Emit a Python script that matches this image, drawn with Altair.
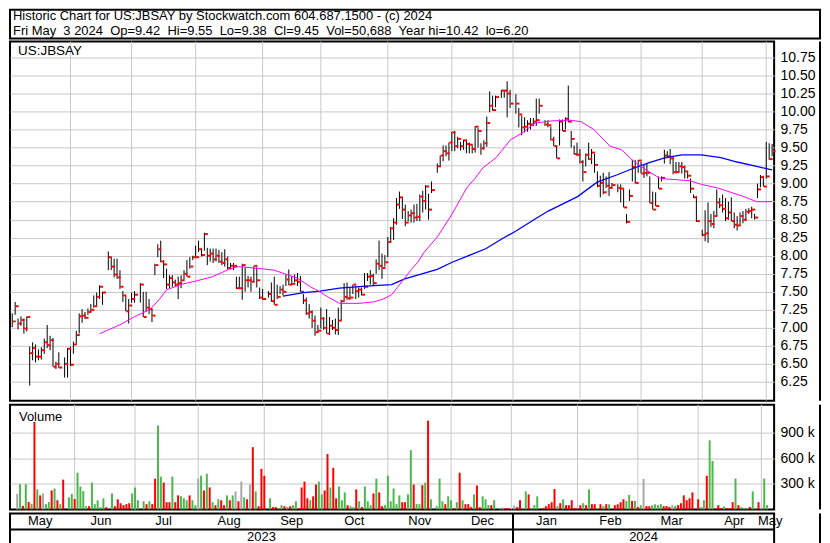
import altair as alt
import pandas as pd

# ---------------- calendar ----------------
FIRST_DAY = "2023-05-04"
LAST_DAY = "2024-05-03"
HOLIDAYS = ["2023-05-29", "2023-06-19", "2023-07-04", "2023-09-04", "2023-11-23",
            "2023-12-25", "2024-01-01", "2024-01-15", "2024-02-19", "2024-03-29"]

# ---------------- daily bars (high / low / close), volume in thousands, volume colour ----------------
may23_h = [7.20, 7.36, 7.13, 7.16, 7.13, 7.16, 6.74, 6.80, 6.77, 6.70, 6.73, 6.85, 7.04, 6.89, 6.86, 6.53, 6.66, 6.59, 6.72]
may23_l = [7.01, 7.18, 6.98, 7.03, 6.92, 6.95, 6.20, 6.55, 6.52, 6.55, 6.56, 6.64, 6.72, 6.69, 6.46, 6.43, 6.44, 6.31, 6.31]
may23_c = [7.09, 7.30, 7.06, 7.11, 6.99, 7.15, 6.65, 6.72, 6.60, 6.60, 6.69, 6.80, 6.76, 6.83, 6.46, 6.50, 6.45, 6.50, 6.71]
may23_v = [181, 296, 42, 296, 88, 65, 1027, 235, 165, 188, 62, 88, 223, 246, 108, 62, 350, 142, 181]
may23_d = ["n", "g", "r", "g", "r", "g", "r", "g", "r", "n", "g", "g", "r", "g", "r", "g", "r", "g", "g"]

jun23_h = [6.74, 6.81, 6.96, 7.20, 7.26, 7.22, 7.27, 7.33, 7.45, 7.49, 7.59, 7.50, 8.06, 7.98, 7.96, 7.96, 7.80, 7.51, 7.44, 7.40, 7.49]
jun23_l = [6.47, 6.64, 6.78, 6.92, 7.07, 7.12, 7.18, 7.22, 7.28, 7.31, 7.40, 7.32, 7.80, 7.80, 7.70, 7.68, 7.54, 7.36, 7.23, 7.06, 7.35]
jun23_c = [6.49, 6.77, 6.90, 7.16, 7.17, 7.14, 7.22, 7.25, 7.30, 7.43, 7.57, 7.49, 7.98, 7.85, 7.74, 7.70, 7.57, 7.45, 7.23, 7.31, 7.40]
jun23_v = [123, 431, 269, 215, 38, 38, 315, 62, 108, 27, 131, 27, 188, 38, 119, 73, 50, 62, 73, 188, 258]
jun23_d = ["r", "g", "g", "g", "g", "r", "g", "g", "g", "g", "g", "r", "g", "r", "r", "r", "r", "r", "r", "g", "g"]

jul23_h = [7.51, 7.62, 7.50, 7.50, 7.40, 7.26, 7.89, 8.16, 8.21, 7.94, 7.82, 7.73, 7.73, 7.67, 7.71, 7.73, 7.80, 7.94, 7.98, 8.00]
jul23_l = [7.35, 7.35, 7.15, 7.23, 7.19, 7.08, 7.73, 7.98, 7.91, 7.69, 7.54, 7.55, 7.57, 7.57, 7.40, 7.55, 7.67, 7.71, 7.82, 7.94]
jul23_c = [7.46, 7.60, 7.15, 7.28, 7.26, 7.17, 7.87, 8.09, 7.92, 7.88, 7.60, 7.69, 7.63, 7.60, 7.62, 7.66, 7.75, 7.71, 7.85, 7.98]
jul23_v = [108, 96, 62, 96, 62, 362, 985, 385, 315, 85, 85, 385, 85, 165, 154, 131, 108, 165, 108, 50]
jul23_d = ["g", "g", "r", "g", "r", "r", "g", "g", "r", "r", "r", "g", "r", "r", "g", "g", "g", "r", "g", "g"]

aug23_h = [8.14, 8.21, 8.11, 8.32, 8.11, 8.10, 8.10, 8.10, 8.08, 8.05, 8.09, 7.99, 7.90, 7.90, 7.71, 7.71, 7.89, 7.84, 7.72, 7.71, 7.86, 7.84, 7.56]
aug23_l = [7.98, 8.05, 7.99, 8.07, 7.87, 7.92, 7.90, 7.92, 7.90, 7.87, 7.85, 7.81, 7.81, 7.80, 7.54, 7.54, 7.39, 7.50, 7.56, 7.50, 7.63, 7.56, 7.40]
aug23_c = [7.98, 8.09, 8.01, 8.30, 8.00, 8.03, 7.95, 8.00, 7.92, 7.90, 7.95, 7.83, 7.86, 7.86, 7.55, 7.55, 7.87, 7.66, 7.66, 7.64, 7.86, 7.66, 7.42]
aug23_v = [362, 396, 223, 419, 258, 85, 50, 119, 108, 50, 165, 108, 165, 212, 96, 327, 142, 119, 292, 731, 212, 38, 477]
aug23_d = ["n", "g", "r", "g", "r", "g", "r", "g", "r", "r", "g", "r", "g", "n", "r", "n", "g", "r", "n", "r", "g", "r", "r"]

sep23_h = [7.54, 7.51, 7.63, 7.71, 7.60, 7.58, 7.60, 7.74, 7.81, 7.72, 7.74, 7.76, 7.72, 7.47, 7.42, 7.33, 7.24, 7.17, 7.04, 7.28]
sep23_l = [7.39, 7.42, 7.36, 7.32, 7.40, 7.47, 7.45, 7.58, 7.59, 7.60, 7.63, 7.58, 7.50, 7.33, 7.18, 7.13, 7.00, 6.89, 6.93, 6.99]
sep23_c = [7.40, 7.47, 7.37, 7.32, 7.43, 7.53, 7.50, 7.67, 7.60, 7.61, 7.66, 7.64, 7.50, 7.38, 7.20, 7.22, 7.10, 6.94, 6.96, 7.13]
sep23_v = [396, 131, 27, 27, 10, 50, 38, 27, 38, 50, 96, 15, 258, 327, 131, 108, 154, 292, 327, 177]
sep23_d = ["r", "g", "r", "r", "g", "g", "r", "g", "r", "g", "g", "r", "r", "r", "r", "g", "r", "r", "g", "g"]

oct23_h = [7.15, 7.26, 7.15, 7.11, 7.13, 7.28, 7.39, 7.62, 7.63, 7.56, 7.60, 7.58, 7.56, 7.56, 7.76, 7.76, 7.80, 7.75, 7.95, 8.21, 8.03, 8.01]
oct23_l = [6.97, 6.92, 6.90, 6.97, 6.91, 6.90, 7.11, 7.38, 7.39, 7.39, 7.47, 7.40, 7.42, 7.45, 7.54, 7.65, 7.60, 7.58, 7.75, 7.80, 7.68, 7.85]
oct23_c = [7.00, 6.92, 7.03, 7.00, 6.97, 7.10, 7.37, 7.43, 7.41, 7.42, 7.60, 7.51, 7.53, 7.46, 7.57, 7.71, 7.72, 7.62, 7.89, 7.86, 7.83, 7.91]
oct23_v = [223, 650, 258, 488, 131, 269, 108, 200, 50, 38, 27, 235, 96, 27, 269, 96, 50, 188, 362, 200, 38, 50]
oct23_d = ["r", "r", "g", "r", "r", "g", "g", "g", "r", "g", "g", "r", "g", "r", "g", "g", "g", "r", "g", "r", "r", "g"]

nov23_h = [8.26, 8.40, 8.52, 8.80, 8.89, 8.81, 8.71, 8.62, 8.64, 8.71, 8.72, 8.85, 8.90, 8.98, 8.86, 9.03, 9.28, 9.39, 9.53, 9.53, 9.57]
nov23_l = [7.98, 8.18, 8.22, 8.43, 8.65, 8.51, 8.41, 8.48, 8.46, 8.46, 8.48, 8.48, 8.60, 8.64, 8.50, 8.87, 9.15, 9.23, 9.31, 9.38, 9.32]
nov23_c = [8.19, 8.38, 8.46, 8.71, 8.81, 8.64, 8.46, 8.56, 8.59, 8.53, 8.54, 8.82, 8.76, 8.96, 8.64, 8.91, 9.24, 9.39, 9.45, 9.42, 9.57]
nov23_v = [396, 96, 246, 62, 165, 85, 85, 177, 696, 292, 65, 62, 285, 315, 1042, 119, 38, 362, 96, 62, 154]
nov23_d = ["g", "g", "g", "g", "g", "r", "r", "g", "g", "r", "g", "g", "r", "g", "r", "g", "g", "g", "g", "r", "g"]

dec23_h = [9.72, 9.73, 9.65, 9.58, 9.61, 9.61, 9.57, 9.53, 9.80, 9.77, 9.56, 9.60, 9.93, 10.28, 10.22, 10.22, 10.30, 10.30, 10.42, 10.30]
dec23_l = [9.45, 9.45, 9.49, 9.46, 9.47, 9.42, 9.42, 9.42, 9.43, 9.50, 9.40, 9.47, 9.51, 9.99, 10.01, 10.06, 10.19, 10.19, 9.92, 10.05]
dec23_c = [9.71, 9.52, 9.62, 9.52, 9.60, 9.55, 9.54, 9.48, 9.79, 9.73, 9.49, 9.56, 9.84, 10.08, 10.02, 10.20, 10.29, 10.29, 10.25, 10.11]
dec23_v = [108, 15, 85, 431, 108, 62, 62, 27, 177, 281, 27, 154, 119, 50, 50, 108, 12, 23, 15, 15]
dec23_d = ["g", "r", "g", "r", "g", "r", "r", "r", "g", "r", "r", "g", "g", "g", "r", "g", "g", "n", "r", "r"]

jan24_h = [10.24, 10.05, 9.94, 9.92, 9.88, 9.91, 9.91, 10.18, 10.18, 9.88, 9.88, 9.79, 9.65, 9.53, 9.89, 9.89, 9.92, 10.36, 9.73, 9.53, 9.57]
jan24_l = [9.97, 9.78, 9.67, 9.71, 9.72, 9.75, 9.80, 9.80, 9.97, 9.80, 9.78, 9.60, 9.52, 9.35, 9.53, 9.73, 9.75, 9.85, 9.50, 9.40, 9.38]
jan24_c = [10.11, 9.96, 9.78, 9.79, 9.83, 9.82, 9.86, 9.88, 10.08, 9.82, 9.81, 9.61, 9.52, 9.35, 9.86, 9.73, 9.90, 9.86, 9.62, 9.41, 9.40]
jan24_v = [46, 27, 108, 15, 212, 177, 15, 50, 154, 15, 38, 62, 85, 240, 38, 73, 119, 50, 50, 108, 15]
jan24_d = ["n", "r", "r", "g", "g", "r", "g", "g", "g", "r", "r", "r", "r", "r", "g", "r", "g", "r", "r", "r", "r"]

feb24_h = [9.48, 9.33, 9.42, 9.57, 9.48, 9.41, 9.17, 9.11, 9.15, 9.10, 9.16, 9.01, 8.99, 8.99, 8.92, 8.58, 8.92, 9.33, 9.33, 9.33]
feb24_l = [9.28, 9.03, 9.24, 9.33, 9.27, 9.15, 8.95, 8.81, 8.85, 8.94, 8.83, 8.94, 8.88, 8.74, 8.67, 8.45, 8.76, 9.03, 9.00, 9.15]
feb24_c = [9.30, 9.16, 9.40, 9.34, 9.43, 9.26, 8.97, 9.01, 8.88, 8.97, 8.94, 8.98, 8.94, 8.93, 8.67, 8.47, 8.83, 9.23, 9.01, 9.32]
feb24_v = [15, 50, 73, 50, 235, 62, 62, 15, 62, 38, 62, 60, 50, 60, 85, 120, 100, 170, 100, 100]
feb24_d = ["r", "r", "g", "r", "g", "r", "r", "g", "r", "g", "r", "g", "r", "r", "r", "r", "g", "g", "r", "g"]

mar24_h = [9.30, 9.26, 9.28, 9.10, 8.89, 8.88, 9.10, 9.10, 9.47, 9.45, 9.48, 9.37, 9.30, 9.30, 9.30, 9.25, 9.16, 9.07, 8.85, 8.83]
mar24_l = [9.14, 9.08, 9.10, 8.73, 8.64, 8.69, 8.93, 9.03, 9.28, 9.35, 9.27, 9.13, 9.14, 9.16, 9.14, 9.07, 9.07, 8.87, 8.80, 8.47]
mar24_c = [9.14, 9.15, 9.15, 8.73, 8.64, 8.69, 8.93, 9.08, 9.39, 9.38, 9.35, 9.16, 9.16, 9.24, 9.23, 9.17, 9.11, 8.93, 8.81, 8.48]
mar24_v = [30, 50, 358, 40, 38, 50, 60, 50, 62, 38, 40, 30, 50, 40, 50, 73, 165, 108, 131, 200]
mar24_d = ["r", "g", "n", "r", "r", "g", "g", "g", "g", "r", "r", "r", "n", "g", "r", "r", "r", "r", "r", "r"]

apr24_h = [8.36, 8.63, 8.74, 8.58, 8.62, 8.92, 8.80, 8.85, 8.80, 8.75, 8.81, 8.60, 8.55, 8.60, 8.62, 8.65, 8.66, 8.68, 8.58, 9.00, 9.12, 9.11]
apr24_l = [8.27, 8.20, 8.18, 8.40, 8.38, 8.55, 8.66, 8.60, 8.48, 8.50, 8.48, 8.38, 8.35, 8.42, 8.45, 8.48, 8.58, 8.52, 8.50, 8.80, 8.95, 8.96]
apr24_c = [8.29, 8.31, 8.48, 8.44, 8.55, 8.74, 8.70, 8.65, 8.52, 8.60, 8.48, 8.43, 8.42, 8.55, 8.50, 8.61, 8.62, 8.64, 8.53, 8.92, 9.09, 8.96]
apr24_v = [119, 27, 108, 396, 811, 569, 15, 50, 15, 35, 15, 15, 85, 362, 50, 27, 15, 15, 30, 212, 10, 85]
apr24_d = ["r", "g", "g", "r", "g", "g", "r", "r", "r", "g", "r", "r", "r", "g", "r", "g", "g", "g", "r", "g", "g", "r"]

may24_h = [9.58, 9.56, 9.55]
may24_l = [9.07, 9.33, 9.38]
may24_c = [9.10, 9.34, 9.45]
may24_v = [8, 362, 51]
may24_d = ["g", "g", "g"]

# moving averages (x in weekday-slot units, value in $)
ma_short_x = [30.1, 37.4, 41.3, 47.5, 50.8, 53.1, 58.7, 63.2, 68.8, 74.3, 77.7, 85.6, 90.0, 97.9, 102.4,
              105.7, 107.9, 112.4, 119.1, 124.2, 127.5, 130.3, 132.3, 137.1, 139.3, 141.5, 146.0, 151.1,
              156.1, 158.9, 161.7, 166.2, 171.2, 175.1, 179.6, 185.2, 191.4, 195.3, 199.8, 205.3, 209.3,
              213.2, 217.7, 222.7, 226.6, 232.8, 236.7, 242.3, 246.8, 251.3, 255.7, 261.0]
ma_short_y = [6.92, 7.05, 7.14, 7.26, 7.41, 7.53, 7.61, 7.65, 7.71, 7.81, 7.85, 7.82, 7.80, 7.69, 7.57,
              7.50, 7.44, 7.34, 7.34, 7.36, 7.40, 7.46, 7.56, 7.81, 7.91, 8.05, 8.26, 8.58,
              8.94, 9.07, 9.22, 9.36, 9.61, 9.70, 9.84, 9.87, 9.88, 9.86, 9.75, 9.52, 9.47,
              9.32, 9.19, 9.07, 9.06, 9.04, 8.99, 8.94, 8.88, 8.82, 8.75, 8.75]
ma_long_x = [93.0, 100.1, 105.7, 112.4, 121.4, 130.3, 134.8, 146.0, 151.1, 157.2, 162.8, 168.4, 172.9,
             179.6, 184.1, 194.2, 200.9, 207.6, 213.2, 218.8, 224.4, 230.0, 236.7, 243.4, 249.0, 255.7, 261.0]
ma_long_y = [7.44, 7.49, 7.51, 7.55, 7.58, 7.60, 7.68, 7.81, 7.91, 8.01, 8.10, 8.24, 8.34,
             8.51, 8.62, 8.82, 9.02, 9.12, 9.21, 9.29, 9.36, 9.40, 9.40, 9.36, 9.30, 9.24, 9.19]

price_ticks = [6.25, 6.50, 6.75, 7.00, 7.25, 7.50, 7.75, 8.00, 8.25, 8.50, 8.75, 9.00, 9.25, 9.50,
               9.75, 10.00, 10.25, 10.50, 10.75]
volume_ticks = [300000, 600000, 900000]

month_firsts = ["2023-06-01", "2023-07-01", "2023-08-01", "2023-09-01", "2023-10-01", "2023-11-01",
                "2023-12-01", "2024-01-01", "2024-02-01", "2024-03-01", "2024-04-01", "2024-05-01"]
month_labels = ["May", "Jun", "Jul", "Aug", "Sep", "Oct", "Nov", "Dec", "Jan", "Feb", "Mar", "Apr", "May"]
year_labels = ["2023", "2024"]
year_break = "2024-01-01"

title_line1 = "Historic Chart for US:JBSAY by Stockwatch.com 604.687.1500 - (c) 2024"
title_line2 = "Fri May  3 2024  Op=9.42  Hi=9.55  Lo=9.38  Cl=9.45  Vol=50,688  Year hi=10.42  lo=6.20"

# ---------------- assemble ----------------
high = may23_h + jun23_h + jul23_h + aug23_h + sep23_h + oct23_h + nov23_h + dec23_h + jan24_h + feb24_h + mar24_h + apr24_h + may24_h
low = may23_l + jun23_l + jul23_l + aug23_l + sep23_l + oct23_l + nov23_l + dec23_l + jan24_l + feb24_l + mar24_l + apr24_l + may24_l
close = may23_c + jun23_c + jul23_c + aug23_c + sep23_c + oct23_c + nov23_c + dec23_c + jan24_c + feb24_c + mar24_c + apr24_c + may24_c
vol_k = may23_v + jun23_v + jul23_v + aug23_v + sep23_v + oct23_v + nov23_v + dec23_v + jan24_v + feb24_v + mar24_v + apr24_v + may24_v
vol_dir = may23_d + jun23_d + jul23_d + aug23_d + sep23_d + oct23_d + nov23_d + dec23_d + jan24_d + feb24_d + mar24_d + apr24_d + may24_d

weekdays = pd.bdate_range(FIRST_DAY, LAST_DAY)
trade_days = weekdays.drop(pd.to_datetime(HOLIDAYS))
slot = [int(s) for s in weekdays.get_indexer(trade_days)]

bars = pd.DataFrame({"i": slot, "h": high, "l": low, "c": close,
                     "v": [x * 1000 for x in vol_k], "d": vol_dir})

XMIN, XMAX = -0.77, 261.7
grid_pos = [int(weekdays.searchsorted(pd.Timestamp(d), side="right")) - 1 for d in month_firsts]
bounds = [XMIN] + grid_pos + [XMAX]
month_df = pd.DataFrame({"m": [(bounds[k] + bounds[k + 1]) / 2 for k in range(len(month_labels))],
                         "lab": month_labels})
ybreak = int(weekdays.searchsorted(pd.Timestamp(year_break), side="right")) - 1
year_df = pd.DataFrame({"m": [(XMIN + ybreak) / 2, (ybreak + XMAX) / 2], "lab": year_labels})
grid_df = pd.DataFrame({"g": grid_pos})
ma_s = pd.DataFrame({"x": ma_short_x, "y": ma_short_y})
ma_l = pd.DataFrame({"x": ma_long_x, "y": ma_long_y})
one = pd.DataFrame({"a": [0]})

# ---------------- styling / layout ----------------
FONT = "Liberation Sans"
W, AXW = 766, 46
HH, PH, VH, XH = 29, 360, 105, 31
GRID = "#c8c8c8"

xs = alt.Scale(domain=[XMIN, XMAX], nice=False, zero=False)
ys = alt.Scale(domain=[5.99, 10.97], nice=False, zero=False)
vs = alt.Scale(domain=[0, 1230000], nice=False, zero=True)


def X(field):
    return alt.X(field, type="quantitative", scale=xs, axis=None)


price_axis = alt.Axis(orient="right", values=price_ticks, format=".2f", title=None, grid=True,
                      gridColor=GRID, gridWidth=1, ticks=False, domain=False, labelFont=FONT,
                      labelFontSize=14, labelColor="black", labelPadding=6)
vol_axis = alt.Axis(orient="right", values=volume_ticks, labelExpr="format(datum.value/1000,'d') + ' k'",
                    title=None, grid=True, gridColor=GRID, gridWidth=1, ticks=False, domain=False,
                    labelFont=FONT, labelFontSize=14, labelColor="black", labelPadding=6)


def YP(field):
    return alt.Y(field, type="quantitative", scale=ys, axis=price_axis)


def right_border(h):
    return alt.Chart(one).mark_rule(color="black", strokeWidth=2).encode(
        x=alt.value(W + AXW), y=alt.value(0), y2=alt.value(h))


# header
nb = "\u00a0"
header = alt.layer(
    alt.Chart(pd.DataFrame({"t": [title_line1.replace("  ", nb + nb)]})).mark_text(
        align="left", baseline="alphabetic", font=FONT, fontSize=13, color="black"
    ).encode(x=alt.value(3), y=alt.value(10.5), text="t:N"),
    alt.Chart(pd.DataFrame({"t": [title_line2.replace("  ", nb + nb)]})).mark_text(
        align="left", baseline="alphabetic", font=FONT, fontSize=13, color="black"
    ).encode(x=alt.value(3), y=alt.value(25), text="t:N"),
).properties(width=W + AXW, height=HH)

# price panel
vgrid = alt.Chart(grid_df).mark_rule(color=GRID, strokeWidth=1).encode(x=X("g"))
hl = alt.Chart(bars).mark_rule(color="black", strokeWidth=1).encode(x=X("i"), y=YP("h"), y2="l")
ct = alt.Chart(bars).mark_tick(color="#ff0000", orient="horizontal", size=3, thickness=2,
                               xOffset=2, opacity=1).encode(x=X("i"), y=YP("c"))
m1 = alt.Chart(ma_s).mark_line(color="#ff00ff", strokeWidth=1).encode(x=X("x"), y=YP("y"))
m2 = alt.Chart(ma_l).mark_line(color="#0000ff", strokeWidth=1.3).encode(x=X("x"), y=YP("y"))
plabel = alt.Chart(pd.DataFrame({"t": ["US:JBSAY"]})).mark_text(
    align="left", baseline="middle", font=FONT, fontSize=13.5, color="black"
).encode(x=alt.value(8), y=alt.value(9), text="t:N")
price = alt.layer(vgrid, hl, ct, m2, m1, plabel, right_border(PH)).properties(width=W, height=PH)

# volume panel
vgrid2 = alt.Chart(grid_df).mark_rule(color=GRID, strokeWidth=1).encode(x=X("g"))
vb = alt.Chart(bars).mark_bar(size=2).encode(
    x=X("i"),
    y=alt.Y("v:Q", scale=vs, axis=vol_axis),
    color=alt.Color("d:N", scale=alt.Scale(domain=["g", "r", "n"], range=["#4cb84c", "#ff0000", "#a8a8a8"]),
                    legend=None),
)
vlabel = alt.Chart(pd.DataFrame({"t": ["Volume"]})).mark_text(
    align="left", baseline="middle", font=FONT, fontSize=13, color="black"
).encode(x=alt.value(9), y=alt.value(12), text="t:N")
volume = alt.layer(vgrid2, vb, vlabel, right_border(VH)).properties(width=W, height=VH)

# month / year strip
mt = alt.Chart(month_df).mark_text(font=FONT, fontSize=13, baseline="middle", color="black").encode(
    x=X("m"), y=alt.value(8), text="lab:N")
yt = alt.Chart(year_df).mark_text(font=FONT, fontSize=13, baseline="middle", color="black").encode(
    x=X("m"), y=alt.value(24), text="lab:N")
midrule = alt.Chart(one).mark_rule(color="black", strokeWidth=2).encode(
    x=alt.value(0), x2=alt.value(W), y=alt.value(16))
ysep = alt.Chart(pd.DataFrame({"g": [ybreak]})).mark_rule(color="black", strokeWidth=2).encode(
    x=X("g"), y=alt.value(0), y2=alt.value(XH))
bottom = alt.Chart(one).mark_rule(color="black", strokeWidth=2).encode(
    x=alt.value(W), x2=alt.value(W + AXW), y=alt.value(XH))
strip = alt.layer(mt, yt, midrule, ysep, right_border(XH), bottom).properties(width=W, height=XH)

chart = alt.vconcat(header, price, volume, strip, spacing=0).properties(
    padding=0
).configure_view(stroke="black", strokeWidth=2).configure_concat(spacing=0)

chart.save("out.html", embed_options={"renderer": "svg", "actions": False})
